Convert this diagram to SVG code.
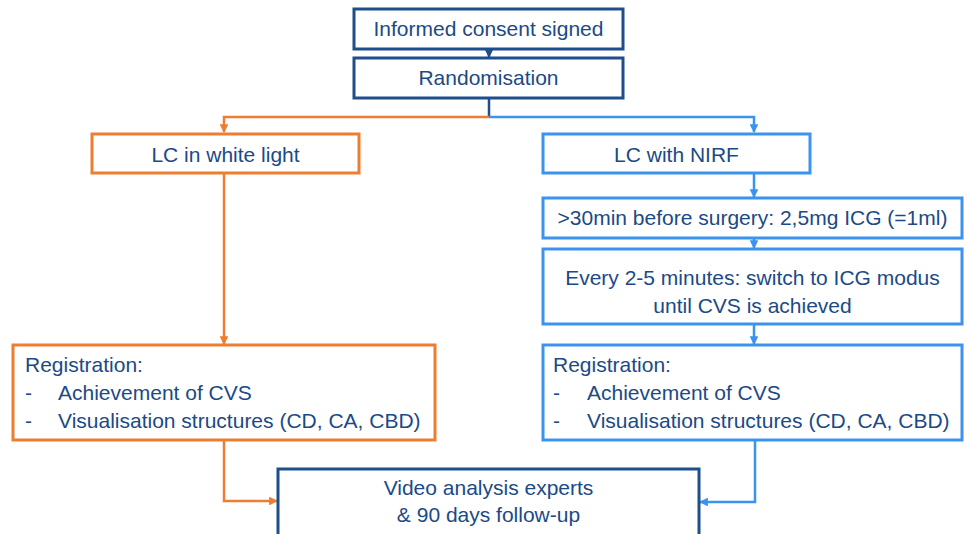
<svg xmlns="http://www.w3.org/2000/svg" width="964" height="534" viewBox="0 0 964 534">
<defs>
<style>
.t{font-family:"Liberation Sans",Arial,sans-serif;font-size:21px;fill:#1B4A86}
.c{text-anchor:middle}
.bd{fill:#fff;stroke:#1F4E8C;stroke-width:3}
.bo{fill:#fff;stroke:#ED7D31;stroke-width:3}
.bb{fill:#fff;stroke:#3A93EE;stroke-width:3}
.lo{fill:none;stroke:#ED7D31;stroke-width:2.5}
.lb{fill:none;stroke:#3A93EE;stroke-width:2.5}
.ld{fill:none;stroke:#1F4E8C;stroke-width:2.5}
</style>
<marker id="ad" viewBox="0 0 10 10" refX="9" refY="5" markerWidth="3.5" markerHeight="3.5" orient="auto" markerUnits="strokeWidth"><path d="M0,0L10,5L0,10z" fill="#1F4E8C"/></marker>
<marker id="ao" viewBox="0 0 10 10" refX="9" refY="5" markerWidth="3.5" markerHeight="3.5" orient="auto" markerUnits="strokeWidth"><path d="M0,0L10,5L0,10z" fill="#ED7D31"/></marker>
<marker id="ab" viewBox="0 0 10 10" refX="9" refY="5" markerWidth="3.5" markerHeight="3.5" orient="auto" markerUnits="strokeWidth"><path d="M0,0L10,5L0,10z" fill="#3A93EE"/></marker>
</defs>
<rect width="964" height="534" fill="#fff"/>
<g id="connectors">
<path class="ld" d="M489,49V57" marker-end="url(#ad)"/>
<path class="ld" d="M489,98V117"/>
<path class="lo" d="M489,117H224V132" marker-end="url(#ao)"/>
<path class="lb" d="M489,117H754V132" marker-end="url(#ab)"/>
<path class="lo" d="M224,173V344" marker-end="url(#ao)"/>
<path class="lb" d="M754,173V197" marker-end="url(#ab)"/>
<path class="lb" d="M754,238V248" marker-end="url(#ab)"/>
<path class="lb" d="M754,324V344" marker-end="url(#ab)"/>
<path class="lo" d="M224,440V501H277" marker-end="url(#ao)"/>
<path class="lb" d="M755,440V502H700" marker-end="url(#ab)"/>
</g>
<g id="consent"><rect class="bd" x="354" y="9" width="269" height="40"/><text class="t c" x="488.5" y="36">Informed consent signed</text></g>
<g id="randomisation"><rect class="bd" x="354" y="58" width="269" height="40"/><text class="t c" x="488.5" y="85">Randomisation</text></g>
<g id="white"><rect class="bo" x="92" y="134" width="267" height="39"/><text class="t c" x="225.5" y="162">LC in white light</text></g>
<g id="nirf"><rect class="bb" x="543" y="134" width="267" height="39"/><text class="t c" x="676.5" y="162">LC with NIRF</text></g>
<g id="icg"><rect class="bb" x="543" y="198" width="419" height="40"/><text class="t c" x="752.5" y="225">&gt;30min before surgery: 2,5mg ICG (=1ml)</text></g>
<g id="every"><rect class="bb" x="543" y="249" width="419" height="75"/><text class="t c" x="752.5" y="285">Every 2-5 minutes: switch to ICG modus</text><text class="t c" x="752.5" y="313">until CVS is achieved</text></g>
<g id="reg-left"><rect class="bo" x="13" y="345" width="422" height="95"/><text class="t" x="25" y="372">Registration:</text><text class="t" x="25" y="400">-</text><text class="t" x="58" y="400">Achievement of CVS</text><text class="t" x="25" y="428">-</text><text class="t" x="58" y="428">Visualisation structures (CD, CA, CBD)</text></g>
<g id="reg-right"><rect class="bb" x="543" y="345" width="419" height="95"/><text class="t" x="553" y="372">Registration:</text><text class="t" x="553" y="400">-</text><text class="t" x="587" y="400">Achievement of CVS</text><text class="t" x="553" y="428">-</text><text class="t" x="587" y="428">Visualisation structures (CD, CA, CBD)</text></g>
<g id="video"><rect class="bd" x="278" y="469" width="421" height="80"/><text class="t c" x="488.5" y="495">Video analysis experts</text><text class="t c" x="488.5" y="522">&amp; 90 days follow-up</text></g>
</svg>
